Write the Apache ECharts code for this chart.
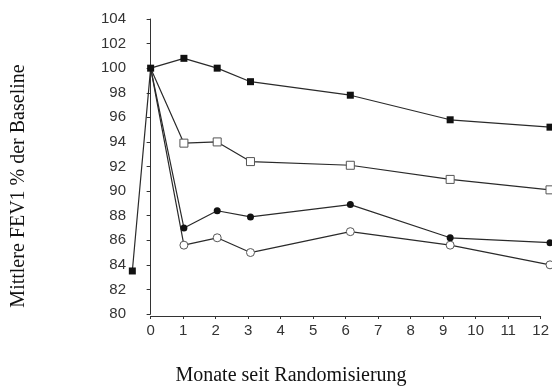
<!DOCTYPE html>
<html>
<head>
<meta charset="utf-8">
<script src="https://cdn.jsdelivr.net/npm/echarts@6/dist/echarts.min.js"></script>
<style>html,body{margin:0;padding:0;background:#fff}#c{width:552px;height:392px}</style>
</head>
<body>
<div id="c"></div>
<script>
var months = [0, 1, 2, 3, 6, 9, 12];
var baselineMonth = -0.55;
var baselineValue = 83.5;
var filledSquare = [100, 100.8, 100, 98.9, 97.8, 95.8, 95.2];
var openSquare = [100, 93.9, 94.0, 92.4, 92.1, 90.95, 90.1];
var filledCircle = [100, 87.0, 88.4, 87.9, 88.9, 86.2, 85.8];
var openCircle = [100, 85.6, 86.2, 85.0, 86.7, 85.6, 84.0];
var yTicks = {min: 80, max: 104, interval: 2};
var xTicks = {min: 0, max: 12, interval: 1};
var yTitle = 'Mittlere FEV1 % der Baseline';
var xTitle = 'Monate seit Randomisierung';

function pairs(vals, hideFirst) {
  return vals.map(function (v, i) {
    var item = {value: [months[i], v]};
    if (hideFirst && i === 0) item.symbol = 'none';
    return item;
  });
}

var lineCol = '#2a2a2a';
var chart = echarts.init(document.getElementById('c'), null, {renderer: 'canvas'});
chart.setOption({
  animation: false,
  grid: [
    {left: 132, right: 2, top: 19, bottom: 78},
    {left: 150.7, right: 2, top: 19, bottom: 76}
  ],
  xAxis: [
    {gridIndex: 0, type: 'value', min: -0.56, max: 12, show: false},
    {gridIndex: 1, type: 'value', min: xTicks.min, max: xTicks.max, interval: xTicks.interval,
     axisLine: {lineStyle: {color: '#333', width: 1}},
     axisTick: {length: 3, lineStyle: {color: '#333'}},
     axisLabel: {color: '#333', fontFamily: 'Liberation Sans, Arial, sans-serif', fontSize: 15, margin: 7},
     splitLine: {show: false}}
  ],
  yAxis: [
    {gridIndex: 0, type: 'value', min: yTicks.min, max: yTicks.max, interval: yTicks.interval,
     axisLine: {show: true, lineStyle: {color: '#333', width: 1}},
     axisTick: {show: true, length: 4, lineStyle: {color: '#333'}},
     axisLabel: {color: '#333', fontFamily: 'Liberation Sans, Arial, sans-serif', fontSize: 15, margin: 6},
     splitLine: {show: false}},
    {gridIndex: 1, type: 'value', min: yTicks.min, max: yTicks.max, show: false}
  ],
  graphic: [
    {type: 'text', x: 291, y: 376, style: {text: xTitle, font: '20px "Liberation Serif", "Times New Roman", serif', fill: '#111', textAlign: 'center', textVerticalAlign: 'middle'}},
    {type: 'text', x: 19, y: 186, rotation: Math.PI / 2, style: {text: yTitle, font: '20px "Liberation Serif", "Times New Roman", serif', fill: '#111', textAlign: 'center', textVerticalAlign: 'middle'}}
  ],
  series: [
    {type: 'line', xAxisIndex: 0, yAxisIndex: 0, data: pairs(openCircle, true), symbol: 'circle', symbolSize: 8,
     lineStyle: {color: lineCol, width: 1.2}, itemStyle: {color: '#fff', borderColor: '#555', borderWidth: 1}, z: 2},
    {type: 'line', xAxisIndex: 0, yAxisIndex: 0, data: pairs(filledCircle, true), symbol: 'circle', symbolSize: 7,
     lineStyle: {color: lineCol, width: 1.2}, itemStyle: {color: '#111', borderColor: '#111', borderWidth: 0}, z: 3},
    {type: 'line', xAxisIndex: 0, yAxisIndex: 0, data: pairs(openSquare, true), symbol: 'rect', symbolSize: 8,
     lineStyle: {color: lineCol, width: 1.2}, itemStyle: {color: '#fff', borderColor: '#555', borderWidth: 1}, z: 4},
    {type: 'line', xAxisIndex: 0, yAxisIndex: 0, data: [{value: [baselineMonth, baselineValue]}].concat(pairs(filledSquare, false)),
     symbol: 'rect', symbolSize: 7, clip: false,
     lineStyle: {color: lineCol, width: 1.2}, itemStyle: {color: '#111', borderColor: '#111', borderWidth: 0}, z: 5}
  ]
});
</script>
</body>
</html>
